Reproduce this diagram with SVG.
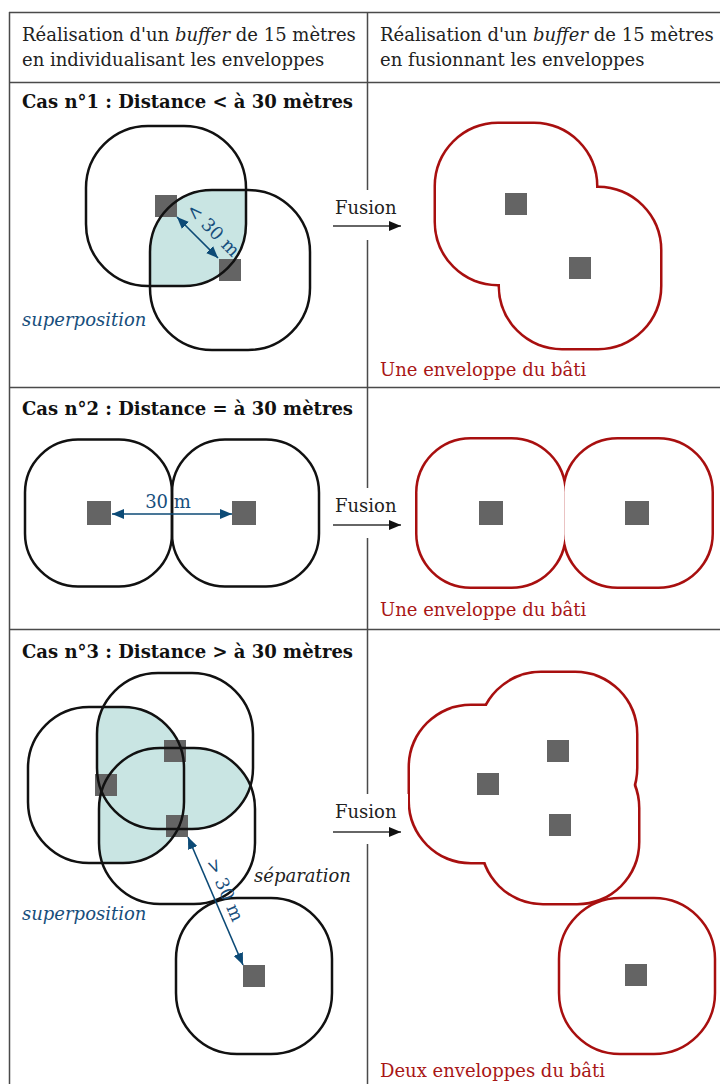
<svg xmlns="http://www.w3.org/2000/svg" xmlns:xlink="http://www.w3.org/1999/xlink" width="720" height="1084" viewBox="0 0 720 1084">
<style>
.grid{stroke:#4a4a4a;stroke-width:1.5;fill:none}
.txt{font-family:"DejaVu Serif","Liberation Serif",serif;font-size:18px;fill:#222}
.bold{font-weight:bold;fill:#111}
.it{font-style:italic}
.blue{fill:#174e7c}
.red{fill:#a81616}
.buf{fill:none;stroke:#111;stroke-width:2.5}
.rs{fill:none;stroke:#a80f0f;stroke-width:5}
.rs1{fill:none;stroke:#a80f0f;stroke-width:2.5}
.wf{fill:#fff;stroke:none}
.teal{fill:#c9e5e3;stroke:none}
.sq{fill:#646464}
.dim{stroke:#0c4a76;stroke-width:1.6;fill:none;marker-start:url(#ab);marker-end:url(#ab)}
.fus{stroke:#333;stroke-width:1.5;fill:none;marker-end:url(#ak)}
</style>
<defs>
<marker id="ab" viewBox="0 0 12 10" refX="12" refY="5" markerWidth="12" markerHeight="10" markerUnits="userSpaceOnUse" orient="auto-start-reverse"><path d="M0,0 L12,5 L0,10 Z" fill="#0c4a76"/></marker>
<marker id="ak" viewBox="0 0 12 10" refX="12" refY="5" markerWidth="12" markerHeight="10" markerUnits="userSpaceOnUse" orient="auto"><path d="M0,0 L12,5 L0,10 Z" fill="#111"/></marker>
<rect id="b80" x="-80" y="-80" width="160" height="160" rx="62" ry="62"/>
<rect id="b78" x="-78" y="-78" width="156" height="156" rx="61" ry="61"/>
<rect id="b73" x="-73.5" y="-73.5" width="147" height="147" rx="53" ry="53"/>
<clipPath id="c1a"><use href="#b80" x="166" y="206"/></clipPath>
<clipPath id="c3a"><use href="#b78" x="106" y="785"/></clipPath>
<clipPath id="c3b"><use href="#b78" x="175" y="751"/></clipPath>
</defs>
<rect x="0" y="0" width="720" height="1084" fill="#fff"/>

<g id="table">
<path class="grid" d="M9,12.5 H720 M9,82.5 H720 M9,387.5 H720 M9,629.5 H720 M9.5,12 V1084 M367.5,12 V1084"/>
<text class="txt" x="22" y="41">Réalisation d'un <tspan class="it">buffer</tspan> de 15 mètres</text>
<text class="txt" x="22" y="66">en individualisant les enveloppes</text>
<text class="txt" x="380" y="41">Réalisation d'un <tspan class="it">buffer</tspan> de 15 mètres</text>
<text class="txt" x="380" y="66">en fusionnant les enveloppes</text>
<text class="txt bold" x="22" y="108">Cas n°1 : Distance &lt; à 30 mètres</text>
<text class="txt bold" x="22" y="415">Cas n°2 : Distance = à 30 mètres</text>
<text class="txt bold" x="22" y="658">Cas n°3 : Distance &gt; à 30 mètres</text>
</g>

<g id="case1-left">
<g clip-path="url(#c1a)"><use href="#b80" x="230" y="270" class="teal"/></g>
<rect class="sq" x="155" y="195" width="22" height="22"/>
<rect class="sq" x="219" y="259" width="22" height="22"/>
<use href="#b80" x="166" y="206" class="buf"/>
<use href="#b80" x="230" y="270" class="buf"/>
<text class="txt it blue" x="22" y="326">superposition</text>
</g>

<g id="case1-right">
<use href="#b80" x="516" y="204" class="rs"/>
<use href="#b80" x="580" y="268" class="rs"/>
<use href="#b80" x="516" y="204" class="wf"/>
<use href="#b80" x="580" y="268" class="wf"/>
<rect class="sq" x="505" y="193" width="22" height="22"/>
<rect class="sq" x="569" y="257" width="22" height="22"/>
<text class="txt red" x="380" y="376">Une enveloppe du bâti</text>
</g>

<g id="case2-left">
<use href="#b73" x="98.5" y="513" class="buf"/>
<use href="#b73" x="245.5" y="513" class="buf"/>
<rect class="sq" x="87" y="501" width="24" height="24"/>
<rect class="sq" x="232" y="501" width="24" height="24"/>
</g>

<g id="case2-right">
<use href="#b73" x="491" y="513" class="rs"/>
<use href="#b73" x="638" y="513" class="rs"/>
<use href="#b73" x="491" y="513" class="wf"/>
<use href="#b73" x="638" y="513" class="wf"/>
<rect class="sq" x="479" y="501" width="24" height="24"/>
<rect class="sq" x="625" y="501" width="24" height="24"/>
<text class="txt red" x="380" y="616">Une enveloppe du bâti</text>
</g>

<g id="case3-left">
<g clip-path="url(#c3a)"><use href="#b78" x="175" y="751" class="teal"/><use href="#b78" x="177" y="826" class="teal"/></g>
<g clip-path="url(#c3b)"><use href="#b78" x="177" y="826" class="teal"/></g>
<rect class="sq" x="95" y="774" width="22" height="22"/>
<rect class="sq" x="164" y="740" width="22" height="22"/>
<rect class="sq" x="166" y="815" width="22" height="22"/>
<rect class="sq" x="243" y="965" width="22" height="22"/>
<use href="#b78" x="106" y="785" class="buf"/>
<use href="#b78" x="175" y="751" class="buf"/>
<use href="#b78" x="177" y="826" class="buf"/>
<use href="#b78" x="254" y="976" class="buf"/>
<text class="txt it" x="254" y="882" fill="#333">séparation</text>
<text class="txt it blue" x="22" y="920">superposition</text>
</g>

<g id="case3-right">
<use href="#b78" x="488" y="784" class="rs"/>
<use href="#b78" x="558" y="751" class="rs"/>
<use href="#b78" x="560" y="825" class="rs"/>
<use href="#b78" x="488" y="784" class="wf"/>
<use href="#b78" x="558" y="751" class="wf"/>
<use href="#b78" x="560" y="825" class="wf"/>
<use href="#b78" x="637" y="976" class="rs1"/>
<rect class="sq" x="477" y="773" width="22" height="22"/>
<rect class="sq" x="547" y="740" width="22" height="22"/>
<rect class="sq" x="549" y="814" width="22" height="22"/>
<rect class="sq" x="625" y="964" width="22" height="22"/>
<text class="txt red" x="380" y="1077">Deux enveloppes du bâti</text>
</g>

<g id="connectors">
<path class="dim" d="M177,217 L218,258"/>
<text class="txt blue" transform="translate(213,230) rotate(45)" x="0" y="6" text-anchor="middle">&lt; 30 m</text>
<path class="dim" d="M112,514 L232,514"/>
<text class="txt blue" x="168" y="508" text-anchor="middle">30 m</text>
<path class="dim" d="M188,837 L243,965"/>
<text class="txt blue" transform="translate(225,890) rotate(66.7)" x="0" y="6" text-anchor="middle">&gt; 30 m</text>
<g id="fusion1"><rect x="328" y="190" width="80" height="50" fill="#fff"/><text class="txt" x="335" y="214">Fusion</text><path class="fus" d="M333,226 L401,226"/></g>
<g id="fusion2"><rect x="328" y="488" width="80" height="50" fill="#fff"/><text class="txt" x="335" y="512">Fusion</text><path class="fus" d="M333,525 L401,525"/></g>
<g id="fusion3"><rect x="328" y="794" width="80" height="50" fill="#fff"/><text class="txt" x="335" y="818">Fusion</text><path class="fus" d="M333,832 L401,832"/></g>
</g>
</svg>
